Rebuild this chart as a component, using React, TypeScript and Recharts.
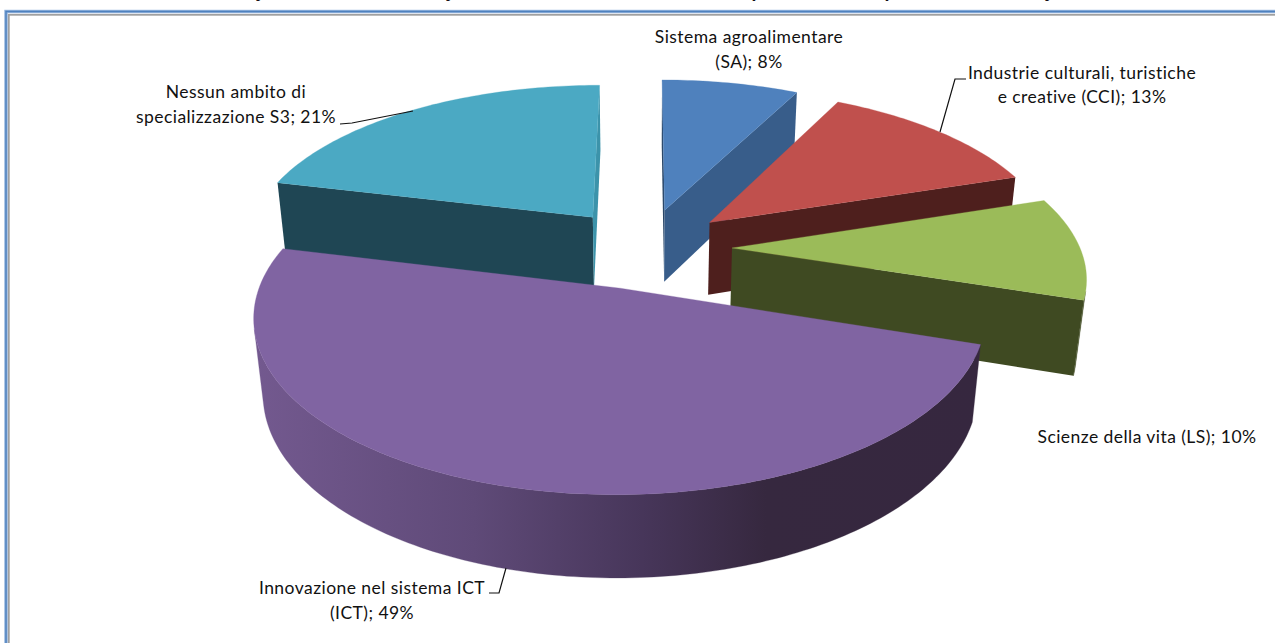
import React from "react";
import { PieChart, Pie, Customized } from "recharts";

const names = [
  "Nessun ambito di specializzazione S3",
  "Sistema agroalimentare (SA)",
  "Industrie culturali, turistiche e creative (CCI)",
  "Scienze della vita (LS)",
  "Innovazione nel sistema ICT (ICT)",
];
const values = [21.2, 7.5, 12.5, 10, 48.8];
const topColors = ["#4BA9C3", "#4F81BD", "#C0504D", "#9BBB59", "#8064A2"];
const startFaceColors = ["#1F4654", "#2B4768", "#4E1F1D", "#3F4A22", "#36283F"];
const endFaceColors = ["#3C93AA", "#385D8A", "#4E1F1D", "#3F4A22", "#36283F"];
const wallColors = ["#1F4654", "#385D8A", "#4E1F1D", "#3F4A22", "url(#ictWall)"];

const labelLines = [
  ["Nessun ambito di", "specializzazione S3; 21%"],
  ["Sistema agroalimentare", "(SA); 8%"],
  ["Industrie culturali, turistiche", "e creative (CCI); 13%"],
  ["Scienze della vita (LS); 10%"],
  ["Innovazione nel sistema ICT", "(ICT); 49%"],
];
const labelX = [236, 749, 1082, 1147, 372];
const labelY = [[98, 123], [43, 68], [79, 103], [443], [594, 619]];
const leaders = [
  "340,124 352,123 413,111",
  "",
  "966,79 955,79 940,132",
  "",
  "489,593 499,593 506,568",
];

const titleGlyphs = ["y", "y", "p", "(", ",", "y"];
const titleGlyphX = [257, 447, 753, 884, 1018, 1046];

const CX = 645;
const CY = 248;
const RADIUS = 348;
const TILT = 0.4626;
const DEPTH = 75;
const PERSP = 0.1535;
const PERSP_Z = 0.023;
const EXPLODE = 0.25;

const total = values.reduce((a, b) => a + b, 0);
const firstAngle = 90 + (values[0] / total) * 360;
const data = names.map((name, i) => ({ name, value: values[i] }));

const RAD = Math.PI / 180;
const project = (x: number, y: number, z: number, cx: number, cy: number, r: number) => {
  const w = 1 - PERSP * y + PERSP_Z * z;
  return [cx + (r * x) / w, cy + (r * TILT * y + DEPTH * z) / w];
};
const area = (p: number[][]) => {
  let s = 0;
  p.forEach((a, i) => {
    const b = p[(i + 1) % p.length];
    s += a[0] * b[1] - b[0] * a[1];
  });
  return s / 2;
};
const toPath = (p: number[][]) => "M" + p.map((q) => q[0].toFixed(2) + "," + q[1].toFixed(2)).join("L") + "Z";

function Slice(props: any) {
  const { cx, cy, outerRadius, startAngle, endAngle, index } = props;
  const mid = ((startAngle + endAngle) / 2) * RAD;
  const ox = EXPLODE * Math.cos(mid);
  const oy = -EXPLODE * Math.sin(mid);
  const steps = Math.max(8, Math.round(Math.abs(startAngle - endAngle)));
  const world: number[][] = [];
  for (let i = 0; i <= steps; i++) {
    const t = (startAngle + ((endAngle - startAngle) * i) / steps) * RAD;
    world.push([ox + Math.cos(t), oy - Math.sin(t)]);
  }
  const P = (q: number[], z: number) => project(q[0], q[1], z, cx, cy, outerRadius);
  const apex = [ox, oy];
  const top = world.map((q) => P(q, 0));
  const bottom = world.map((q) => P(q, 1));
  const topPath = toPath([P(apex, 0), ...top]);

  const startFace = [P(apex, 0), top[0], bottom[0], P(apex, 1)];
  const endFace = [P(apex, 0), top[steps], bottom[steps], P(apex, 1)];

  const runs: number[][][] = [];
  let cur: number[][] | null = null;
  for (let i = 0; i < steps; i++) {
    const quad = [top[i], top[i + 1], bottom[i + 1], bottom[i]];
    if (area(quad) < 0) {
      if (!cur) {
        cur = [[...top[i]], [...bottom[i]]];
        runs.push(cur);
      }
      cur.push([...top[i + 1]], [...bottom[i + 1]]);
    } else cur = null;
  }
  const runPaths = runs.map((run) => {
    const t = run.filter((_, i) => i % 2 === 0);
    const b = run.filter((_, i) => i % 2 === 1).reverse();
    return toPath([...t, ...b]);
  });

  return (
    <g>
      <defs>
        <linearGradient id="ictWall" gradientUnits="userSpaceOnUse" x1="255" y1="0" x2="985" y2="0">
          <stop offset="0" stopColor="#73598F" />
          <stop offset="0.3" stopColor="#5F4A78" />
          <stop offset="0.53" stopColor="#47365A" />
          <stop offset="0.7" stopColor="#36283F" />
          <stop offset="1" stopColor="#36273F" />
        </linearGradient>
      </defs>
      {area(startFace) < 0 && <path d={toPath(startFace)} fill={startFaceColors[index]} />}
      {area(endFace) > 0 && <path d={toPath(endFace)} fill={endFaceColors[index]} />}
      {runPaths.map((d, i) => (
        <path key={i} d={d} fill={wallColors[index]} stroke={wallColors[index]} strokeWidth={0.3} />
      ))}
      <path d={topPath} fill={topColors[index]} stroke={topColors[index]} strokeWidth={0.3} />
    </g>
  );
}

const FONT = "Lato, 'Open Sans', sans-serif";

function SliceLabel(props: any) {
  const { index } = props;
  return (
    <g>
      {leaders[index] && <polyline points={leaders[index]} fill="none" stroke="#111" strokeWidth={1.2} />}
      {labelLines[index].map((line, i) => (
        <text key={i} x={labelX[index]} y={labelY[index][i]} textAnchor="middle" fontFamily={FONT} fontSize={17.5} letterSpacing={0.45} fill="#111">
          {line}
        </text>
      ))}
    </g>
  );
}

function Frame() {
  return (
    <g>
      <rect x={6} y={11.5} width={1400} height={800} fill="none" stroke="#8FB1DC" strokeWidth={3.4} />
      <rect x={6} y={11.5} width={1400} height={800} fill="none" stroke="#4F81BD" strokeWidth={1.4} />
      <rect x={8.8} y={14.8} width={1400} height={800} fill="none" stroke="#A0A0A0" strokeWidth={1.8} />
    </g>
  );
}

export default function App() {
  return (
    <div style={{ position: "absolute", left: 0, top: 0, width: 1275, height: 643, background: "#fff", overflow: "hidden" }}>
      <PieChart width={1275} height={643} margin={{ top: 0, right: 0, bottom: 0, left: 0 }}>
        <Customized component={Frame} />
        <Pie
          data={data}
          dataKey="value"
          nameKey="name"
          cx={CX}
          cy={CY}
          innerRadius={0}
          outerRadius={RADIUS}
          startAngle={firstAngle}
          endAngle={firstAngle - 360}
          stroke="none"
          shape={Slice as any}
          inactiveShape={Slice as any}
          activeShape={Slice as any}
          label={SliceLabel as any}
          labelLine={false}
          isAnimationActive={false}
        />
        <Customized
          component={() => (
            <g>
              {titleGlyphs.map((g, i) => (
                <text key={i} x={titleGlyphX[i]} y={-3} fontFamily="'Liberation Sans', sans-serif" fontWeight="bold" fontStyle="italic" fontSize={18} fill="#111">
                  {g}
                </text>
              ))}
            </g>
          )}
        />
      </PieChart>
    </div>
  );
}
